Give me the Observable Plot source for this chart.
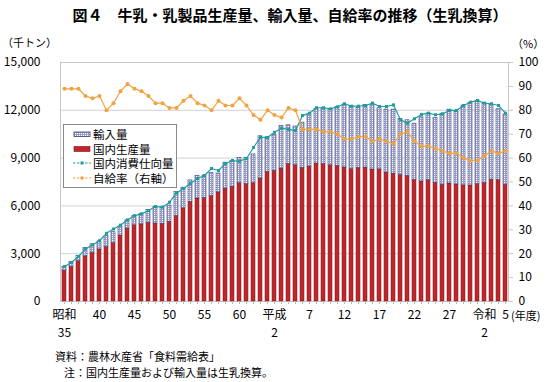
<!DOCTYPE html>
<html><head><meta charset="utf-8">
<script src="https://cdn.jsdelivr.net/npm/d3@7"></script>
<script src="https://cdn.jsdelivr.net/npm/@observablehq/plot@0.6"></script>
<style>
body{margin:0;background:#fff;font-family:"Noto Sans CJK JP","Noto Sans",sans-serif;}
#wrap{position:relative;width:550px;height:382px;overflow:hidden;}
.t{position:absolute;white-space:nowrap;color:#000;line-height:1;}
#chart{position:absolute;left:0;top:40px;}
#legend{position:absolute;left:63px;top:124px;width:112px;height:62px;border:1px solid #8a8a8a;background:#fff;font-size:11.5px;}
.li{position:absolute;left:9px;height:14px;display:flex;align-items:center;}
.li svg{margin-right:2px;}
</style></head><body><div id="wrap">
<div id="chart"></div>
<div class="t" style="left:0;width:580px;text-align:center;top:7px;font-size:15px;font-weight:bold">図４　牛乳・乳製品生産量、輸入量、自給率の推移（生乳換算）</div>
<div class="t" style="left:2px;top:37px;font-size:11px">（千トン）</div>
<div class="t" style="left:512px;top:38px;font-size:11px">（%）</div>
<div class="t" style="left:511px;top:310px;font-size:11px">(年度)</div>
<div class="t" style="left:55px;top:351px;font-size:11px">資料：農林水産省「食料需給表」</div>
<div class="t" style="left:64px;top:367px;font-size:11px">注：国内生産量および輸入量は生乳換算。</div>
<div id="legend"></div>
</div>
<script>
const years = [1960,1961,1962,1963,1964,1965,1966,1967,1968,1969,1970,1971,1972,1973,1974,1975,1976,1977,1978,1979,
1980,1981,1982,1983,1984,1985,1986,1987,1988,1989,1990,1991,1992,1993,1994,1995,1996,1997,1998,1999,
2000,2001,2002,2003,2004,2005,2006,2007,2008,2009,2010,2011,2012,2013,2014,2015,2016,2017,2018,2019,
2020,2021,2022,2023];
// 国内生産量 (千トン)
const production = [1939,2180,2526,2837,3053,3271,3431,3663,4140,4575,4789,4841,4944,4898,4876,5008,5369,5846,6256,6464,
6498,6612,6848,7086,7200,7436,7360,7428,7717,8134,8203,8343,8617,8550,8388,8467,8659,8629,8549,8513,
8414,8312,8380,8405,8284,8293,8091,8024,7946,7881,7631,7534,7608,7448,7331,7407,7342,7291,7282,7362,
7438,7646,7617,7332];
// 輸入量 (千トン)
const imports = [237,309,330,512,535,501,681,685,569,526,568,662,796,1032,1038,1016,1491,1295,1343,1427,
1411,1455,1186,1627,1627,1579,1637,1804,2650,2175,2237,2675,2444,2434,2841,3286,3418,3498,3507,3683,
3952,3896,3783,3925,4036,3836,3958,4020,3503,3491,3528,4025,4194,4058,4425,4634,4554,5000,5164,5219,
4987,4690,4450,4410];
// 国内消費仕向量 (千トン)
const consumption = [2200,2450,2830,3300,3550,3815,4280,4550,4790,5120,5390,5500,5710,5960,5920,6230,6800,7090,7400,7720,
7910,8350,8220,8660,8850,8800,8975,9665,10310,10290,10620,10880,10800,10730,11670,11820,12160,12160,12090,12220,
12410,12260,12260,12300,12450,12240,12240,12340,11400,11190,11470,11740,11820,11720,11780,11990,11990,12300,12510,12615,
12450,12410,12300,11820];
// 自給率 (%)
const selfSufficiency = [89,89,89,86,85,86,80,83,88,91,89,88,86,83,83,81,81,84,86,83,
82,80,84,82,82,85,82,78,76,80,78,77,81,80,72,72,72,71,71,70,
68,68,69,69,67,68,67,66,70,71,67,65,65,64,63,62,62,60,59,59,
61,63,62,63];
const leftTicks = [0,3000,6000,9000,12000,15000];
const rightTicks = [0,10,20,30,40,50,60,70,80,90,100];
const labelYears = [1960,1965,1970,1975,1980,1985,1990,1995,2000,2005,2010,2015,2020,2023];
const labelTop = ["昭和","40","45","50","55","60","平成","7","12","17","22","27","令和","5"];
const labelBottomYears = [1960,1990,2020];
const labelBottom = ["35","2","2"];

const k = 150; // right axis: 100% = 15,000
const rows = years.map((y,i)=>({year:y, prod:production[i], imp:imports[i], cons:consumption[i], ss:selfSufficiency[i]*k}));
const topMap = new Map(labelYears.map((y,i)=>[y,labelTop[i]]));
const botMap = new Map(labelBottomYears.map((y,i)=>[y,labelBottom[i]]));

const teal = "#1f9e9e", orange = "#f2a23e", red = "#c0272c";
const hatchBg = "#9ca1cc";

const chart = Plot.plot({
  width: 550, height: 310,
  marginTop: 22, marginBottom: 49, marginLeft: 60, marginRight: 42,
  style: {fontFamily: '"Noto Sans CJK JP","Noto Sans",sans-serif', fontSize: "12px", color: "#000", background: "transparent", overflow: "visible"},
  x: {type: "band", domain: years, paddingInner: 0.5, paddingOuter: 0.25, axis: null},
  y: {domain: [0, 15000], axis: null},
  marks: [
    Plot.gridY(leftTicks, {stroke: "#d2d2d2", strokeOpacity: 1}),
    Plot.frame({stroke: "#c8c8c8", strokeOpacity: 1}),
    Plot.barY(rows, {x: "year", y: "prod", fill: red, stroke: "#7d1414", strokeWidth: 0.5}),
    Plot.barY(rows, {x: "year", y1: "prod", y2: d => d.prod + d.imp, fill: "url(#hatch)", stroke: "#3a4178", strokeWidth: 0.6}),
    Plot.line(rows, {x: "year", y: "cons", stroke: teal, strokeWidth: 1.2}),
    Plot.dot(rows, {x: "year", y: "cons", symbol: "square", r: 1.7, fill: teal, stroke: null}),
    Plot.line(rows, {x: "year", y: "ss", stroke: orange, strokeWidth: 1.2}),
    Plot.dot(rows, {x: "year", y: "ss", r: 2, fill: orange, stroke: null}),
    Plot.axisY(leftTicks, {anchor: "left", tickSize: 0, tickPadding: 20, tickFormat: d3.format(","), fontSize: 12, label: null}),
    Plot.axisY(rightTicks.map(d => d * k), {anchor: "right", tickSize: 4, tickPadding: 6, stroke: "#c8c8c8", tickFormat: d => d / k, fontSize: 12, label: null}),
    Plot.axisX(years, {tickSize: 3, stroke: "#b8b8b8", tickFormat: () => "", label: null}),
    Plot.axisX(labelYears, {tickSize: 0, tickPadding: 9, tickFormat: d => topMap.get(d), fontSize: 12, label: null}),
    Plot.axisX(labelBottomYears, {tickSize: 0, tickPadding: 27, tickFormat: d => botMap.get(d), fontSize: 12, label: null})
  ]
});
const ns = "http://www.w3.org/2000/svg";
function addHatch(svg, id){
  const defs = document.createElementNS(ns, "defs");
  const p = document.createElementNS(ns, "pattern");
  p.setAttribute("id", id); p.setAttribute("width", 2); p.setAttribute("height", 2);
  p.setAttribute("patternUnits", "userSpaceOnUse");
  const r1 = document.createElementNS(ns, "rect");
  r1.setAttribute("width", 2); r1.setAttribute("height", 2); r1.setAttribute("fill", hatchBg);
  const r2 = document.createElementNS(ns, "rect");
  r2.setAttribute("width", 1); r2.setAttribute("height", 1); r2.setAttribute("fill", "#ffffff");
  p.appendChild(r1); p.appendChild(r2); defs.appendChild(p);
  svg.insertBefore(defs, svg.firstChild);
}
addHatch(chart, "hatch");
document.getElementById("chart").appendChild(chart);

// legend
const legendItems = [
  {label: "輸入量", kind: "hatch"},
  {label: "国内生産量", kind: "bar"},
  {label: "国内消費仕向量", kind: "line", color: teal, sym: "square"},
  {label: "自給率（右軸）", kind: "line", color: orange, sym: "circle"}
];
const leg = document.getElementById("legend");
legendItems.forEach((it, i) => {
  const d = document.createElement("div");
  d.className = "li"; d.style.top = (2 + i * 14.5) + "px";
  let sw;
  if (it.kind === "hatch") {
    sw = `<svg width="18" height="10"><defs><pattern id="lh" width="2" height="2" patternUnits="userSpaceOnUse"><rect width="2" height="2" fill="${hatchBg}"/><rect width="1" height="1" fill="#fff"/></pattern></defs><rect x="1" y="3" width="16" height="4.5" fill="url(#lh)" stroke="#3a4178" stroke-width="0.8"/></svg>`;
  } else if (it.kind === "bar") {
    sw = `<svg width="18" height="10"><rect x="1" y="2.5" width="16" height="5" fill="${red}" stroke="#7d1414" stroke-width="0.6"/></svg>`;
  } else {
    const m = it.sym === "square" ? `<rect x="7.5" y="3.5" width="3" height="3" fill="${it.color}"/>` : `<circle cx="9" cy="5" r="1.8" fill="${it.color}"/>`;
    sw = `<svg width="18" height="10"><line x1="0" y1="5" x2="18" y2="5" stroke="${it.color}" stroke-width="1" stroke-dasharray="2.5,1.5"/>${m}</svg>`;
  }
  d.innerHTML = sw + `<span>${it.label}</span>`;
  leg.appendChild(d);
});
</script>
</body></html>
